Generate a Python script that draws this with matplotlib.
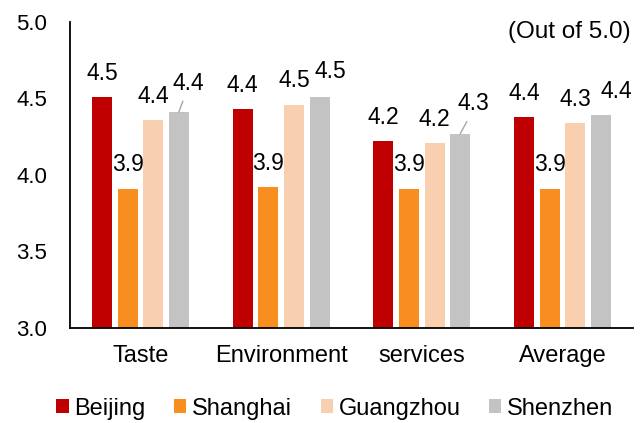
import matplotlib
matplotlib.use("Agg")
import matplotlib.pyplot as plt
from matplotlib.patches import Patch
import numpy as np

plt.rcParams["font.family"] = ["Liberation Sans", "DejaVu Sans"]

# Survey scores (out of 5.0)
categories = ["Taste", "Environment", "services", "Average"]
cities = ["Beijing", "Shanghai", "Guangzhou", "Shenzhen"]
beijing = [4.51, 4.43, 4.22, 4.38]
shanghai = [3.91, 3.92, 3.91, 3.91]
guangzhou = [4.36, 4.46, 4.21, 4.34]
shenzhen = [4.41, 4.51, 4.27, 4.39]
y_ticks = [3.0, 3.5, 4.0, 4.5, 5.0]

series = [beijing, shanghai, guangzhou, shenzhen]
colors = ["#C00000", "#F98E20", "#F8D0B0", "#C3C3C3"]

# label placement (offset points from the bar top) and leader-line flags
default_offset = (0, 17)
shenzhen_offsets = [(7, 21), (8, 18.5), (9.5, 21.5), (11, 17)]
shenzhen_leader = [True, False, True, False]

fig = plt.figure(figsize=(6.42, 4.23), dpi=100)
ax = fig.add_axes([0.109, 0.2253, 0.877, 0.7227])

x = np.arange(len(categories))
pitch = 0.182
width = 0.142
fs = 16.5

for j, (vals, col) in enumerate(zip(series, colors)):
    pos = x + (j - 1.5) * pitch
    ax.bar(pos, vals, width=width, color=col, bottom=0, zorder=2)
    for i, (px, v) in enumerate(zip(pos, vals)):
        if j == 3:
            off = shenzhen_offsets[i]
            arrow = (dict(arrowstyle="-", color="#A6A6A6", lw=1.0,
                          relpos=(0.4, 0.0), shrinkA=3, shrinkB=0)
                     if shenzhen_leader[i] else None)
        else:
            off = default_offset
            arrow = None
        ax.annotate(f"{v:.1f}", xy=(px, v), xytext=off,
                    textcoords="offset points", ha="center", va="center",
                    fontsize=fs, color="black", arrowprops=arrow,
                    annotation_clip=False)

ax.set_xlim(-0.5, len(categories) - 0.5)
ax.set_ylim(3.0, 5.0)
ax.set_yticks(y_ticks)
ax.set_yticklabels([f"{t:.1f}" for t in y_ticks], fontsize=16)
ax.set_xticks(x)
ax.set_xticklabels(categories, fontsize=17)
ax.tick_params(axis="y", length=0, pad=16.5)
ax.tick_params(axis="x", length=0, pad=12.5)

for side in ["top", "right"]:
    ax.spines[side].set_visible(False)
for side in ["left", "bottom"]:
    ax.spines[side].set_color("black")
    ax.spines[side].set_linewidth(1.3)

ax.text(0.995, 0.968, "(Out of 5.0)", transform=ax.transAxes,
        ha="right", va="center", fontsize=17.5)

handles = [Patch(facecolor=c, edgecolor="none") for c in colors]
fig.legend(handles, cities, loc="center", bbox_to_anchor=(335 / 642, 1 - 408.5 / 423),
           ncol=4, frameon=False, fontsize=17, handlelength=0.52, handleheight=0.52,
           handletextpad=0.25, columnspacing=1.2, borderpad=0, borderaxespad=0)

fig.savefig("out.png", dpi=100)
